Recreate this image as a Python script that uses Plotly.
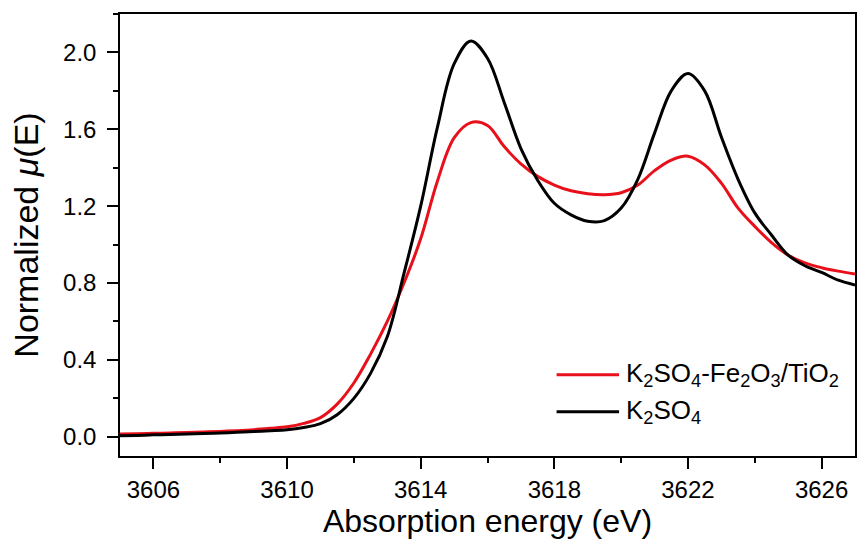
import plotly.graph_objects as go

energy = [3605, 3605.5, 3606, 3606.5, 3607, 3607.5, 3608, 3608.5, 3609, 3609.5,
          3610, 3610.5, 3611, 3611.5, 3612, 3612.5, 3613, 3613.5, 3614, 3614.5,
          3615, 3615.5, 3616, 3616.5, 3617, 3617.5, 3618, 3618.5, 3619, 3619.5,
          3620, 3620.5, 3621, 3621.5, 3622, 3622.5, 3623, 3623.5, 3624, 3624.5,
          3625, 3625.5, 3626, 3626.5, 3627]

# K2SO4 (black)
mu_k2so4 = [0.005, 0.007, 0.010, 0.012, 0.015, 0.017, 0.020, 0.023, 0.027, 0.031,
            0.036, 0.048, 0.068, 0.115, 0.20, 0.33, 0.52, 0.85, 1.20, 1.61,
            1.94, 2.06, 1.97, 1.74, 1.50, 1.335, 1.215, 1.155, 1.122, 1.125,
            1.19, 1.34, 1.58, 1.80, 1.89, 1.80, 1.56, 1.34, 1.165, 1.05,
            0.945, 0.89, 0.855, 0.815, 0.79]

# K2SO4-Fe2O3/TiO2 (red)
mu_mix = [0.015, 0.016, 0.018, 0.020, 0.022, 0.025, 0.028, 0.032, 0.037, 0.044,
          0.052, 0.070, 0.100, 0.17, 0.28, 0.43, 0.60, 0.80, 1.03, 1.33,
          1.555, 1.635, 1.62, 1.51, 1.42, 1.355, 1.31, 1.28, 1.265, 1.26,
          1.27, 1.31, 1.385, 1.44, 1.46, 1.415, 1.32, 1.19, 1.095, 1.01,
          0.945, 0.905, 0.88, 0.862, 0.847]

x_ticks = [3606, 3610, 3614, 3618, 3622, 3626]
y_ticks = [0.0, 0.4, 0.8, 1.2, 1.6, 2.0]

series_names = ["K<sub>2</sub>SO<sub>4</sub>-Fe<sub>2</sub>O<sub>3</sub>/TiO<sub>2</sub>",
                "K<sub>2</sub>SO<sub>4</sub>"]
series_colors = ["#e8101a", "black"]
series_values = [mu_mix, mu_k2so4]

fig = go.Figure()
for name, color, vals in zip(series_names, series_colors, series_values):
    fig.add_trace(go.Scatter(x=energy, y=vals, mode="lines", name=name, showlegend=False,
                             line=dict(color=color, width=3, shape="spline", smoothing=1.0)))

font_family = "Liberation Sans, Arial, sans-serif"

# legend drawn as line samples + text (to match longer line samples)
legend_y = [0.184, 0.100]
for name, color, ly in zip(series_names, series_colors, legend_y):
    fig.add_shape(type="line", xref="paper", yref="paper", x0=0.594, x1=0.679, y0=ly, y1=ly,
                  line=dict(color=color, width=3))
    fig.add_annotation(xref="paper", yref="paper", x=0.686, y=ly, xanchor="left", yanchor="middle",
                       text=name, showarrow=False, font=dict(size=26, family=font_family, color="black"))

fig.update_layout(
    width=859, height=545,
    margin=dict(l=120, r=2, t=14, b=89),
    plot_bgcolor="white", paper_bgcolor="white",
    font=dict(family=font_family, color="black"),
    showlegend=False,
    xaxis=dict(range=[3605, 3627], tickvals=x_ticks, ticktext=[str(v) for v in x_ticks],
               ticks="outside", ticklen=11, tickwidth=1.5, tickcolor="black",
               minor=dict(dtick=2, tick0=3606, ticks="outside", ticklen=5, tickwidth=1.5, tickcolor="black"),
               showline=True, linecolor="black", linewidth=1.5, mirror=True,
               showgrid=False, zeroline=False,
               tickfont=dict(size=24), ticklabelstandoff=0,
               title=dict(text="Absorption energy (eV)", font=dict(size=32), standoff=6)),
    yaxis=dict(range=[-0.1, 2.2], tickvals=y_ticks, ticktext=[f"{v:.1f}" for v in y_ticks],
               ticks="outside", ticklen=11, tickwidth=1.5, tickcolor="black",
               minor=dict(dtick=0.2, tick0=0, ticks="outside", ticklen=5, tickwidth=1.5, tickcolor="black"),
               showline=True, linecolor="black", linewidth=1.5, mirror=True,
               showgrid=False, zeroline=False,
               tickfont=dict(size=24), ticklabelstandoff=6,
               title=dict(text="Normalized <i>μ</i>(E)", font=dict(size=34), standoff=14)),
)

fig.write_html("out.html")
